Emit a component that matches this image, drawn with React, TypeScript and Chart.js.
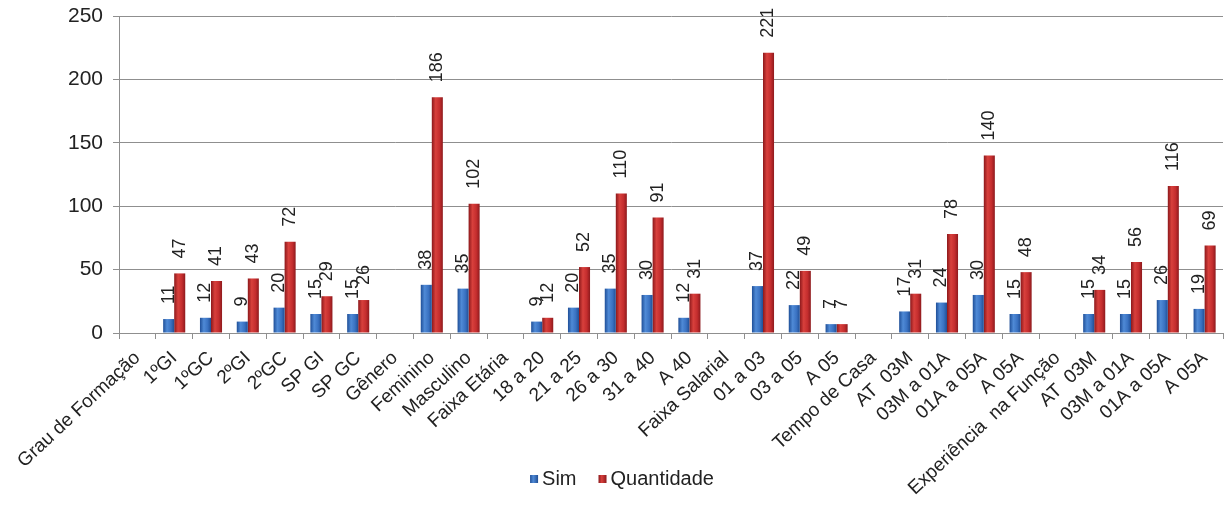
import React, { useEffect, useRef } from 'react';
import { Chart, registerables } from 'chart.js';

Chart.register(...registerables);

const categories: string[] = [
  'Grau de Formação', '1ºGI', '1ºGC', '2ºGI', '2ºGC', 'SP GI', 'SP GC',
  'Gênero', 'Feminino', 'Masculino',
  'Faixa Etária', '18 a 20', '21 a 25', '26 a 30', '31 a 40', 'A 40',
  'Faixa Salarial', '01 a 03', '03 a 05', 'A 05',
  'Tempo de Casa', 'AT  03M', '03M a 01A', '01A a 05A', 'A 05A',
  'Experiência  na Função', 'AT  03M', '03M a 01A', '01A a 05A', 'A 05A',
];

const simValues: (number | null)[] = [
  null, 11, 12, 9, 20, 15, 15,
  null, 38, 35,
  null, 9, 20, 35, 30, 12,
  null, 37, 22, 7,
  null, 17, 24, 30, 15,
  null, 15, 15, 26, 19,
];

const quantidadeValues: (number | null)[] = [
  null, 47, 41, 43, 72, 29, 26,
  null, 186, 102,
  null, 12, 52, 110, 91, 31,
  null, 221, 49, 7,
  null, 31, 78, 140, 48,
  null, 34, 56, 116, 69,
];

const seriesNames = ['Sim', 'Quantidade'];
const yTicks = { min: 0, max: 250, step: 50 };

const FONT = '"Liberation Sans", Arial, sans-serif';
const TEXT = '#222222';
const GRID = '#8f8f8f';

const palettes = [
  { solid: '#3268b8', stops: ['#1f4f98', '#4f8ad6', '#3a72c2', '#214f95'] },
  { solid: '#c0282b', stops: ['#8c181b', '#d8403c', '#c42d2e', '#8e1a1d'] },
];

const CAT_PCT = 0.6;
const BAR_PCT = 1.0;

function barFill(c: any, di: number) {
  const pal = palettes[di];
  const chart = c.chart;
  const xs = chart.scales && chart.scales.x;
  if (!xs || c.type !== 'data' || c.dataIndex == null || !xs.width) return pal.solid;
  const center = xs.getPixelForValue(c.dataIndex);
  const cw = xs.width / categories.length;
  const bw = (cw * CAT_PCT * BAR_PCT) / 2;
  const x0 = di === 0 ? center - bw : center;
  const g = chart.ctx.createLinearGradient(x0, 0, x0 + bw, 0);
  g.addColorStop(0, pal.stops[0]);
  g.addColorStop(0.35, pal.stops[1]);
  g.addColorStop(0.7, pal.stops[2]);
  g.addColorStop(1, pal.stops[3]);
  return g;
}

const valueLabels = {
  id: 'valueLabels',
  afterDatasetsDraw(chart: any) {
    const ctx = chart.ctx;
    ctx.save();
    ctx.font = `18px ${FONT}`;
    ctx.fillStyle = TEXT;
    ctx.textAlign = 'left';
    ctx.textBaseline = 'middle';
    chart.data.datasets.forEach((ds: any, di: number) => {
      const meta = chart.getDatasetMeta(di);
      meta.data.forEach((el: any, i: number) => {
        const v = ds.data[i];
        if (v == null) return;
        ctx.save();
        ctx.translate(el.x, el.y - 15);
        ctx.rotate(-Math.PI / 2);
        ctx.fillText(String(v), 0, 0);
        ctx.restore();
      });
    });
    ctx.restore();
  },
};

const customLegend = {
  id: 'customLegend',
  afterDraw(chart: any) {
    const ctx = chart.ctx;
    ctx.save();
    ctx.font = `20px ${FONT}`;
    ctx.textBaseline = 'middle';
    ctx.textAlign = 'left';
    const box = 8;
    const gapBoxText = 4;
    const gapItems = 22;
    const widths = seriesNames.map((n) => box + gapBoxText + ctx.measureText(n).width);
    const total = widths.reduce((a, b) => a + b, 0) + gapItems * (seriesNames.length - 1);
    let x = 622 - total / 2;
    const y = 479;
    seriesNames.forEach((n, i) => {
      const pal = palettes[i];
      const g = ctx.createLinearGradient(x, 0, x + box, 0);
      g.addColorStop(0, pal.stops[0]);
      g.addColorStop(0.4, pal.stops[1]);
      g.addColorStop(1, pal.stops[3]);
      ctx.fillStyle = g;
      ctx.fillRect(x, y - box / 2, box, box);
      ctx.fillStyle = TEXT;
      ctx.fillText(n, x + box + gapBoxText, y);
      x += widths[i] + gapItems;
    });
    ctx.restore();
  },
};

export default function App() {
  const ref = useRef<HTMLCanvasElement>(null);

  useEffect(() => {
    const canvas = ref.current;
    if (!canvas) return;
    const chart = new Chart(canvas, {
      type: 'bar',
      data: {
        labels: categories,
        datasets: [
          {
            label: seriesNames[0],
            data: simValues,
            backgroundColor: (c: any) => barFill(c, 0),
            borderWidth: 0,
            categoryPercentage: CAT_PCT,
            barPercentage: BAR_PCT,
          },
          {
            label: seriesNames[1],
            data: quantidadeValues,
            backgroundColor: (c: any) => barFill(c, 1),
            borderWidth: 0,
            categoryPercentage: CAT_PCT,
            barPercentage: BAR_PCT,
          },
        ],
      } as any,
      options: {
        animation: false,
        responsive: false,
        devicePixelRatio: 1,
        layout: { padding: { left: 0, right: 5, top: 16, bottom: 0 } },
        plugins: {
          legend: { display: false },
          tooltip: { enabled: false },
        },
        scales: {
          x: {
            grid: {
              display: true,
              drawOnChartArea: false,
              drawTicks: true,
              tickLength: 6,
              color: GRID,
              offset: true,
            },
            border: { display: true, color: GRID, width: 1 },
            ticks: {
              autoSkip: false,
              maxRotation: 43,
              minRotation: 43,
              padding: 8,
              color: TEXT,
              font: { family: FONT, size: 19 },
            },
            afterFit: (s: any) => {
              s.height = 172;
              s.paddingLeft = 0;
              s.paddingRight = 0;
            },
          },
          y: {
            min: yTicks.min,
            max: yTicks.max,
            ticks: {
              stepSize: yTicks.step,
              padding: 10,
              color: TEXT,
              font: { family: FONT, size: 21 },
            },
            grid: { color: GRID, tickLength: 6, lineWidth: 1 },
            border: { display: true, color: GRID, width: 1 },
            afterFit: (s: any) => {
              s.width = 119;
              s.paddingTop = 0;
              s.paddingBottom = 0;
            },
          },
        },
      } as any,
      plugins: [valueLabels, customLegend],
    });
    return () => chart.destroy();
  }, []);

  return (
    <canvas
      ref={ref}
      width={1228}
      height={505}
      style={{ position: 'absolute', left: 0, top: 0, width: '1228px', height: '505px' }}
    />
  );
}
